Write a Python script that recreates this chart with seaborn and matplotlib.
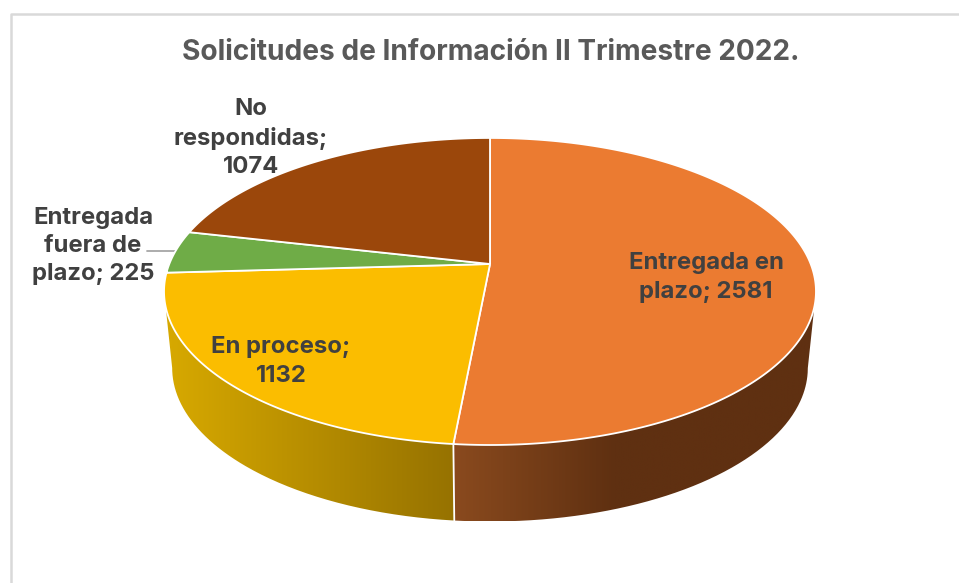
import numpy as np
import matplotlib
matplotlib.use("Agg")
import matplotlib.pyplot as plt
from matplotlib.path import Path
from matplotlib.patches import PathPatch
from matplotlib.colors import to_rgb
import seaborn as sns

# ---- data ----
categories = ["Entregada en plazo", "En proceso", "Entregada fuera de plazo", "No respondidas"]
values = [2581, 1132, 225, 1074]
title = "Solicitudes de Información II Trimestre 2022."
label_texts = ["Entregada en\nplazo; 2581", "En proceso;\n1132", "Entregada\nfuera de\nplazo; 225", "No\nrespondidas;\n1074"]
colors = ["#EB7B31", "#FBBD00", "#6FAC47", "#9B470B"]

# ---- layout ----
W, H = 959, 583
CX, CY = 490.0, 264.0
A, B, K = 320.7, 148.6, 0.179
DEPTH, XS = 76.5, 0.975
label_pos = [(706, 277.5), (281, 361.5), (93, 246), (251, 138)]
side_stops = {0: ([454, 615], ["#8A4A1E", "#5F3011"]),
              1: ([172, 454], ["#D6A800", "#967200"])}

sns.set_theme(style="white")
plt.rcParams["font.family"] = ["Inter", "DejaVu Sans"]

fig = plt.figure(figsize=(W / 100, H / 100), dpi=100)
ax = fig.add_axes([0, 0, 1, 1])


def project(theta_deg, bottom=False):
    t = np.radians(theta_deg)
    u, v = np.cos(t), np.sin(t)
    w = 1 + K * v
    x = A * u / w
    y = -B * v / w
    if bottom:
        return CX + XS * x, CY + y + DEPTH
    return CX + x, CY + y


wedges, _ = ax.pie(values, colors=colors, startangle=90, counterclock=False,
                   wedgeprops=dict(edgecolor="white", linewidth=1.3))

limit = np.degrees(np.arcsin(-K))  # widest point of the projected disc
for i, wedge in enumerate(wedges):
    th = np.linspace(wedge.theta1, wedge.theta2, 240)
    x, y = project(th)
    verts = np.column_stack([np.r_[CX, x, CX], np.r_[CY, y, CY]])
    wedge._path = Path(verts, closed=False)
    wedge.set_zorder(5)
    wedge.set_joinstyle("round")

    # extruded side: a horizontal colour ramp clipped to the wall outline
    if i in side_stops:
        t1 = ((wedge.theta1 + 180) % 360) - 180
        t2 = t1 + (wedge.theta2 - wedge.theta1)
        lo, hi = max(t1, -180 - limit), min(t2, limit)
        seg = np.linspace(lo, hi, 200)
        xt, yt = project(seg)
        xb, yb = project(seg, bottom=True)
        outline = np.column_stack([np.r_[xt, xb[::-1], xt[0]], np.r_[yt, yb[::-1], yt[0]]])
        x0, x1 = outline[:, 0].min(), outline[:, 0].max()
        y0, y1 = outline[:, 1].min(), outline[:, 1].max()
        stops, cols = side_stops[i]
        rgb = np.array([to_rgb(c) for c in cols])
        xs = np.linspace(x0, x1, 512)
        ramp = np.stack([np.interp(xs, stops, rgb[:, n]) for n in range(3)], axis=-1)[None, :, :]
        im = ax.imshow(ramp, extent=(x0, x1, y1, y0), aspect="auto", zorder=2, interpolation="bilinear")
        clip = PathPatch(Path(outline), transform=ax.transData, facecolor="none", edgecolor="none")
        ax.add_patch(clip)
        im.set_clip_path(clip)

ax.set_aspect("auto")
ax.set_xlim(0, W)
ax.set_ylim(H, 0)
ax.axis("off")

# white seam between the two front slices on the side wall
seam = wedges[0].theta1
xa, ya = project(seam)
xb, yb = project(seam, bottom=True)
ax.plot([xa, xb], [ya, yb], color="white", lw=1.3, zorder=3)

# leader line and frame
ax.plot([147, 176], [251, 251], color="#A6A6A6", lw=1.3, zorder=4)
ax.plot([11, 11, W], [H, 13.5, 13.5], color="#D9D9D9", lw=1.8, zorder=1)

for txt, (tx, ty) in zip(label_texts, label_pos):
    ax.text(tx, ty, txt, ha="center", va="center", fontsize=17.2, fontweight="bold",
            color="#404040", linespacing=1.37, zorder=6)
ax.text(491, 53, title, ha="center", va="center", fontsize=20.2, fontweight="bold",
        color="#595959", zorder=6)

fig.savefig("out.png", dpi=100, facecolor="white")
